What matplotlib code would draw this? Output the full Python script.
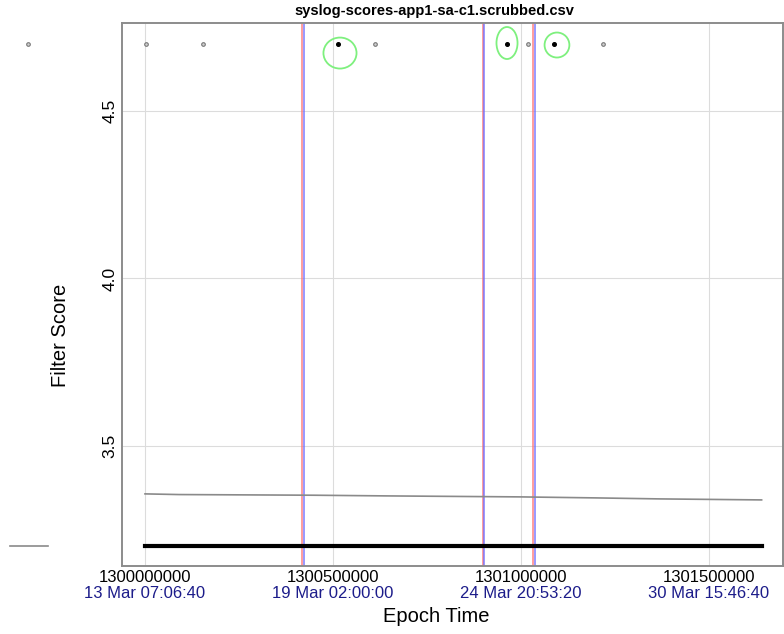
import matplotlib
matplotlib.use("Agg")
import matplotlib.pyplot as plt
from matplotlib.patches import Ellipse
from matplotlib.transforms import blended_transform_factory

plt.rcParams["font.family"] = ["Liberation Sans", "DejaVu Sans"]

# ---- data ----
score_epoch = [1299689000, 1300002700, 1300154300, 1300513300, 1300611700,
               1300962800, 1301018600, 1301087800, 1301218100]
score_value = [4.7, 4.7, 4.7, 4.7, 4.7, 4.7, 4.7, 4.7, 4.7]
score_flagged = [False, False, False, True, False, True, False, True, False]

trend_epoch = [1300000000, 1300090000, 1300450000, 1300640000,
               1301000000, 1301200000, 1301370000, 1301640000]
trend_value = [3.357, 3.355, 3.353, 3.351, 3.348, 3.345, 3.342, 3.339]

baseline_epoch = [1300000000, 1301640000]
baseline_value = [3.2, 3.2]
stub_epoch = [1299640000, 1299742000]
stub_value = [3.2, 3.2]

change_start = [1300416700, 1300898100, 1301032700]
change_end = [1300423700, 1300900300, 1301036400]

# anomaly circles: centre epoch, centre score, width (s), height (score)
ring_epoch = [1300518600, 1300962800, 1301095700]
ring_value = [4.673, 4.703, 4.697]
ring_width = [88000, 56000, 66000]
ring_height = [0.0925, 0.0955, 0.0746]

xticks = [1300000000, 1300500000, 1301000000, 1301500000]
xtick_dates = ["13 Mar 07:06:40", "19 Mar 02:00:00",
               "24 Mar 20:53:20", "30 Mar 15:46:40"]
yticks = [3.5, 4.0, 4.5]

# ---- plot ----
fig = plt.figure(figsize=(7.84, 6.34), dpi=100)
ax = fig.add_axes([0.1556, 0.1073, 0.8431, 0.8564])
ax.set_xlim(1299938800, 1301696800)
ax.set_ylim(3.1418, 4.7627)

ax.grid(True, color="#dcdcdc", linewidth=0.8)
ax.set_axisbelow(True)
for s in ax.spines.values():
    s.set_color("#8c8c8c")
    s.set_linewidth(1.4)

for xs, xe in zip(change_start, change_end):
    ax.axvline(xs, color="#ff7070", linewidth=1.2, alpha=0.8)
    ax.axvline(xe, color="#6a6aff", linewidth=1.2, alpha=0.8)

ax.plot(trend_epoch, trend_value, color="#8a8a8a", linewidth=1.2)
ax.plot(baseline_epoch, baseline_value, color="black", linewidth=3)
ax.plot(stub_epoch, stub_value, color="#8a8a8a", linewidth=1.2, clip_on=False)

for x, y, flag in zip(score_epoch, score_value, score_flagged):
    if flag:
        ax.plot(x, y, "o", color="black", markersize=2.6, clip_on=False)
    else:
        ax.plot(x, y, "o", markerfacecolor="#d0d0d0", markeredgecolor="#777777",
                markersize=2.6, markeredgewidth=0.8, clip_on=False)

for x, y, w, h in zip(ring_epoch, ring_value, ring_width, ring_height):
    ax.add_patch(Ellipse((x, y), w, h, fill=False, edgecolor="#7ef07e",
                         linewidth=1.3))

ax.set_xticks(xticks)
ax.set_xticklabels([str(t) for t in xticks], fontsize=12)
ax.set_yticks(yticks)
ax.set_yticklabels([f"{t:.1f}" for t in yticks], fontsize=12.5, rotation=90,
                   va="center")
ax.tick_params(length=0, pad=3)

trans = blended_transform_factory(ax.transData, ax.transAxes)
for t, d in zip(xticks, xtick_dates):
    ax.text(t, -0.036, d, transform=trans, ha="center", va="top",
            fontsize=12, color="#1c1c8a")

fig.text(436 / 784, 1 - 617 / 634, "Epoch Time", ha="center", va="center",
         fontsize=14.5)
fig.text(60 / 784, 1 - 335 / 634, "Filter Score", ha="center", va="center",
         fontsize=14.5, rotation=90)
fig.text(434 / 784, 0.983, "syslog-scores-app1-sa-c1.scrubbed.csv",
         ha="center", va="center", fontsize=10.5, fontweight="bold")

fig.savefig("out.png", dpi=100)
